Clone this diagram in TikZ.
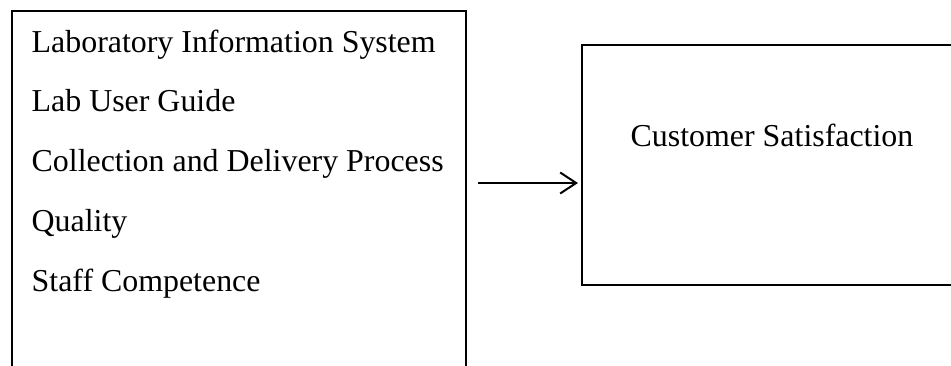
\documentclass[tikz,border=0pt]{standalone}
\usepackage{fontspec}
\setmainfont{Liberation Serif}
\usetikzlibrary{arrows.meta}
\begin{document}
\begin{tikzpicture}[x=1pt,y=-1pt,
  frame/.style={draw=black,line width=2.2pt,inner sep=0pt,anchor=north west},
  item/.style={anchor=base west,inner sep=0pt,font=\fontsize{31.9}{38}\selectfont},
  link/.style={line width=2pt,-{Straight Barb[length=16pt,width=21pt,line width=2pt]}}]
  \useasboundingbox (0,0) rectangle (951,365);
  % factor box (runs past the lower edge)
  \node[frame,minimum width=454pt,minimum height=400pt] (factors) at (11,9.5) {};
  \node[item] (lis)  at (31.5,52)  {Laboratory Information System};
  \node[item] (lug)  at (31.5,111) {Lab User Guide};
  \node[item] (cdp)  at (31.5,171) {Collection and Delivery Process};
  \node[item] (qual) at (31.5,231) {Quality};
  \node[item] (staff) at (31.5,291) {Staff Competence};
  % outcome box (runs past the right edge)
  \node[frame,minimum width=420pt,minimum height=240pt] (outcome) at (581,44) {};
  \node[item] (cs) at (630.5,146) {Customer Satisfaction};
  % connector
  \coordinate (src) at (478,183);
  \draw[link] (src) -- ([xshift=-3pt]outcome.west |- src);
\end{tikzpicture}
\end{document}
